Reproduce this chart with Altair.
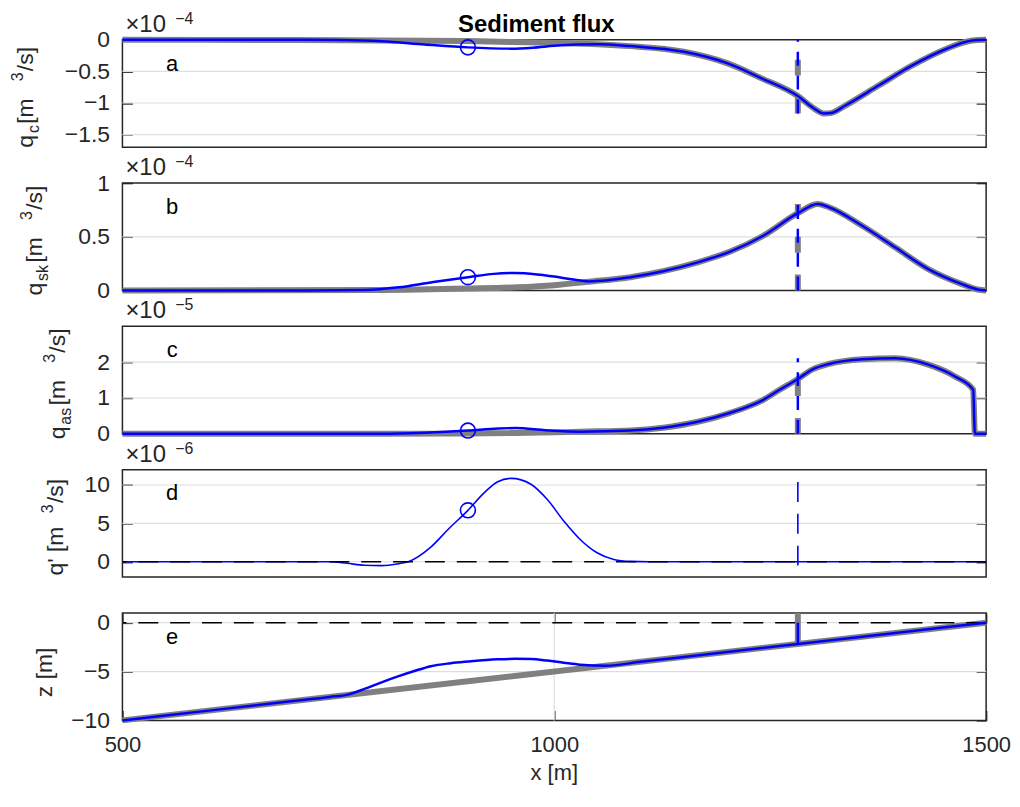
import altair as alt
import pandas as pd

FONT = "Liberation Sans"
AX = "#262626"
GRID = "#dedede"
GREY = "#808080"
BLUE = "#0000ff"

# ---------------- data ----------------
X_MARK = 900      # position of the circle marker [m]
X_BREAK = 1282    # position of the vertical break line [m]

# panel a : q_c  (x1e-4 m^3/s)
a_grey_x = [500, 700, 800, 900, 950, 1000, 1050, 1088, 1150, 1200, 1240, 1282, 1300, 1312, 1320, 1337, 1376, 1414, 1453, 1484, 1500]
a_grey_y = [0, -0.005, -0.01, -0.02, -0.035, -0.05, -0.07, -0.10, -0.19, -0.37, -0.61, -0.89, -1.08, -1.165, -1.16, -1.04, -0.72, -0.41, -0.15, -0.01, 0]
a_blue_x = [500, 700, 750, 800, 850, 900, 950, 975, 1000, 1025, 1050, 1088, 1150, 1200, 1240, 1282, 1300, 1312, 1320, 1337, 1376, 1414, 1453, 1484, 1500]
a_blue_y = [0, 0, -0.005, -0.025, -0.075, -0.12, -0.14, -0.125, -0.095, -0.075, -0.07, -0.10, -0.19, -0.37, -0.61, -0.89, -1.08, -1.165, -1.16, -1.04, -0.72, -0.41, -0.15, -0.01, 0]

# panel b : q_sk (x1e-4 m^3/s)
b_grey_x = [500, 800, 900, 957, 1000, 1040, 1088, 1126, 1165, 1203, 1242, 1282, 1305, 1318, 1357, 1395, 1433, 1472, 1490, 1500]
b_grey_y = [0, 0.005, 0.018, 0.03, 0.05, 0.082, 0.124, 0.18, 0.26, 0.36, 0.51, 0.72, 0.805, 0.775, 0.60, 0.40, 0.20, 0.06, 0.01, 0]
b_blue_x = [500, 700, 780, 820, 860, 900, 930, 955, 980, 1000, 1020, 1040, 1088, 1126, 1165, 1203, 1242, 1282, 1305, 1318, 1357, 1395, 1433, 1472, 1490, 1500]
b_blue_y = [0, 0, 0.005, 0.03, 0.08, 0.124, 0.155, 0.163, 0.15, 0.13, 0.105, 0.085, 0.124, 0.18, 0.26, 0.36, 0.51, 0.72, 0.805, 0.775, 0.60, 0.40, 0.20, 0.06, 0.01, 0]

# panel c : q_as (x1e-5 m^3/s)
c_grey_x = [500, 800, 900, 950, 1000, 1050, 1088, 1126, 1165, 1203, 1242, 1261, 1282, 1299, 1318, 1357, 1395, 1433, 1464, 1485, 1487, 1500]
c_grey_y = [0, 0, 0.01, 0.02, 0.04, 0.07, 0.09, 0.17, 0.33, 0.58, 0.95, 1.23, 1.53, 1.80, 1.95, 2.08, 2.11, 1.93, 1.60, 1.23, 0, 0]
c_blue_x = [500, 800, 850, 900, 935, 955, 990, 1030, 1088, 1126, 1165, 1203, 1242, 1261, 1282, 1299, 1318, 1357, 1395, 1433, 1464, 1485, 1487, 1500]
c_blue_y = [0, 0, 0.03, 0.09, 0.15, 0.16, 0.10, 0.06, 0.09, 0.17, 0.33, 0.58, 0.95, 1.23, 1.53, 1.80, 1.95, 2.08, 2.11, 1.93, 1.60, 1.23, 0, 0]

# panel d : q' (x1e-6 m^3/s)
d_blue_x = [500, 700, 740, 760, 780, 800, 820, 831, 857, 877, 900, 919, 934, 950, 973, 992, 1011, 1030, 1049, 1069, 1088, 1110, 1500]
d_blue_y = [0, 0, 0, -0.2, -0.45, -0.5, -0.25, 0, 1.9, 4.2, 6.7, 9.0, 10.4, 10.86, 10.1, 8.1, 5.3, 2.9, 1.2, 0.3, 0.05, 0, 0]

# panel e : bed level z [m]
e_grey_x = [500, 1500]
e_grey_y = [-10, 0]
e_blue_x = [500, 600, 700, 740, 761, 781, 800, 819, 838, 857, 880, 900, 934, 955, 973, 992, 1011, 1030, 1060, 1100, 1200, 1282, 1400, 1500]
e_blue_y = [-10, -9, -8, -7.6, -7.36, -6.75, -6.1, -5.5, -4.95, -4.45, -4.15, -3.98, -3.75, -3.7, -3.72, -3.88, -4.1, -4.3, -4.4, -4.0, -3.0, -2.18, -1.0, 0]
SEA_LEVEL = 0

# axis settings per panel
DOMAINS = {"a": [-1.7, 0], "b": [0, 1], "c": [0, 3], "d": [-2, 12], "e": [-10, 1]}
TICKS = {"a": [0, -0.5, -1, -1.5], "b": [0, 0.5, 1], "c": [0, 1, 2], "d": [0, 5, 10], "e": [0, -5, -10]}
EXPONENTS = {"a": "\u22124", "b": "\u22124", "c": "\u22125", "d": "\u22126"}
X_DOMAIN = [500, 1500]
X_TICKS = [500, 1000, 1500]

W, H = 868, 108
SPACING = 36
LABEL_FS = 23
ONE = pd.DataFrame({"k": [0]})
XS = alt.Scale(domain=X_DOMAIN, nice=False, zero=False)


def ys(p):
    return alt.Scale(domain=DOMAINS[p], nice=False, zero=False)


def yaxis_left(p):
    return alt.Axis(orient="left", values=TICKS[p], format=".2~f", offset=-10, tickSize=10,
                    domain=False, grid=False, labelPadding=13,
                    labelFontSize=LABEL_FS, labelFont=FONT, labelColor=AX, tickColor=AX, tickWidth=1.5,
                    title=None, labelFlush=False, labelOverlap=False)


def yaxis_right(p):
    return alt.Axis(orient="right", values=TICKS[p], offset=-10, tickSize=10, domain=False,
                    grid=False, labels=False, tickColor=AX, tickWidth=1.5, title=None)


def txt(s, x, y, fs, angle=0, align="left", baseline="alphabetic", weight="normal", color=AX):
    return alt.Chart(ONE).mark_text(text=s, fontSize=fs, font=FONT, color=color, angle=angle,
                                    align=align, baseline=baseline, fontWeight=weight).encode(
        x=alt.value(x), y=alt.value(y))


CW = {"q": .556, "c": .5, "s": .5, "k": .5, "a": .556, "z": .5, " ": .278, "[": .278, "]": .278,
      "m": .833, "/": .278, "3": .556, "'": .191}


def ylabel(pieces, xb, yc, fs=23, sfs=16, k=1.15):
    def w(s, kind):
        if kind == "gap":
            return s
        f = fs if kind == "n" else sfs
        return sum(CW[ch] for ch in s) * f * k
    total = sum(w(s, kind) for s, kind in pieces)
    y = yc + total / 2
    out = []
    for s, kind in pieces:
        if kind != "gap":
            f = fs if kind == "n" else sfs
            dx = 0 if kind == "n" else (6 if kind == "sub" else -10)
            out.append(txt(s, xb + dx, y, f, angle=270))
        y -= w(s, kind)
    return out


def ygrid(p):
    lo, hi = DOMAINS[p]
    df = pd.DataFrame({"y": [v for v in TICKS[p] if lo < v < hi]})
    return alt.Chart(df).mark_rule(color=GRID, strokeWidth=1.2).encode(
        y=alt.Y("y:Q", scale=ys(p), axis=None))


def xgrid():
    lo, hi = X_DOMAIN
    df = pd.DataFrame({"x": [v for v in X_TICKS if lo < v < hi]})
    return alt.Chart(df).mark_rule(color=GRID, strokeWidth=1.2).encode(
        x=alt.X("x:Q", scale=XS, axis=None))


def curve(xs_, ys_, color, width, p, yaxis=None, xaxis=None, opacity=1):
    df = pd.DataFrame({"x": xs_, "y": ys_})
    return alt.Chart(df).mark_line(color=color, strokeWidth=width, interpolate="monotone",
                                   opacity=opacity).encode(
        x=alt.X("x:Q", scale=XS, axis=xaxis),
        y=alt.Y("y:Q", scale=ys(p), axis=yaxis))


def vline(y1, y2, color, width, p, dash=None, clip=False):
    df = pd.DataFrame({"x": [X_BREAK], "y1": [y1], "y2": [y2]})
    kw = dict(color=color, strokeWidth=width, clip=clip)
    if dash:
        kw["strokeDash"] = dash
    return alt.Chart(df).mark_rule(**kw).encode(
        x=alt.X("x:Q", scale=XS, axis=None),
        y=alt.Y("y1:Q", scale=ys(p), axis=None), y2="y2:Q")


def marker(xs_, ys_, p):
    v = ys_[xs_.index(X_MARK)]
    df = pd.DataFrame({"x": [X_MARK], "y": [v]})
    return alt.Chart(df).mark_point(shape="circle", filled=False, size=225, strokeWidth=1.6,
                                    color=BLUE, opacity=1).encode(
        x=alt.X("x:Q", scale=XS, axis=None), y=alt.Y("y:Q", scale=ys(p), axis=None))


def hzero(p, value):
    df = pd.DataFrame({"y": [value]})
    return alt.Chart(df).mark_rule(color="black", strokeWidth=1.5, strokeDash=[20, 12]).encode(
        y=alt.Y("y:Q", scale=ys(p), axis=None))


def deco(p, label_pieces, xb):
    items = [txt(p, 50, 24, 22, align="center", baseline="middle", color="black")]
    if p in EXPONENTS:
        items.append(txt("\u00d710", 3, -8, 24))
        items.append(txt(EXPONENTS[p], 53, -16, 16))
    items += ylabel(label_pieces, xb, H / 2 + 2)
    return items


def qlabel(sub):
    return [("q", "n"), (sub, "sub"), (" [m", "n"), (6, "gap"), ("3", "sup"), ("/s]", "n")]


def flux_panel(p, gx, gy, bx, by, label_pieces, xb):
    layers = [
        ygrid(p),
        curve(gx, gy, GREY, 6, p, yaxis=yaxis_left(p)),
        vline(min(by), max(by), GREY, 6, p, dash=[16, 22]),
        curve(bx, by, BLUE, 2.5, p, yaxis=yaxis_right(p)),
        vline(min(by), max(by), BLUE, 2.5, p, dash=[14, 10]),
        marker(bx, by, p),
    ] + deco(p, label_pieces, xb)
    return alt.layer(*layers).resolve_axis(x="independent", y="independent").properties(width=W, height=H)


pa = flux_panel("a", a_grey_x, a_grey_y, a_blue_x, a_blue_y, qlabel("c"), -90)
pa = alt.layer(pa, txt("Sediment flux", 416, -8, 24, align="center", weight="bold", color="black"))
pb = flux_panel("b", b_grey_x, b_grey_y, b_blue_x, b_blue_y, qlabel("sk"), -81)
pc = flux_panel("c", c_grey_x, c_grey_y, c_blue_x, c_blue_y, qlabel("as"), -58)

# panel d
pd_layers = [
    ygrid("d"),
    curve(d_blue_x, d_blue_y, BLUE, 1.6, "d", yaxis=yaxis_left("d")),
    vline(min(d_blue_y), max(d_blue_y), BLUE, 1.6, "d", dash=[20, 12]),
    hzero("d", 0),
    curve(d_blue_x, d_blue_y, BLUE, 1, "d", yaxis=yaxis_right("d"), opacity=0),
    marker(d_blue_x, d_blue_y, "d"),
] + deco("d", [("q' [m", "n"), (6, "gap"), ("3", "sup"), ("/s]", "n")], -60)
pdd = alt.layer(*pd_layers).resolve_axis(x="independent", y="independent").properties(width=W, height=H)

# panel e
xaxis_bottom = alt.Axis(orient="bottom", values=X_TICKS, format="d", offset=-10, tickSize=10,
                        domain=False, grid=False, labelPadding=14,
                        labelFontSize=22, labelFont=FONT, labelColor=AX, tickColor=AX, tickWidth=1.5,
                        labelFlush=False, title=None)
xaxis_top = alt.Axis(orient="top", values=X_TICKS, offset=-10, tickSize=10, domain=False,
                     grid=False, labels=False, tickColor=AX, tickWidth=1.5, title=None)
z_break = e_blue_y[e_blue_x.index(X_BREAK)]
pe_layers = [
    ygrid("e"),
    xgrid(),
    curve(e_grey_x, e_grey_y, GREY, 6, "e", yaxis=yaxis_left("e"), xaxis=xaxis_bottom),
    vline(z_break, DOMAINS["e"][1], GREY, 6, "e", clip=True),
    hzero("e", SEA_LEVEL),
    curve(e_blue_x, e_blue_y, BLUE, 2.5, "e", yaxis=yaxis_right("e"), xaxis=xaxis_top),
    vline(z_break, SEA_LEVEL, BLUE, 2.5, "e"),
    txt("e", 50, 24, 22, align="center", baseline="middle", color="black"),
    txt("x [m]", W / 2, H + 60, 22, align="center"),
] + ylabel([("z [m]", "n")], -71, H / 2 + 2)
pe = alt.layer(*pe_layers).resolve_axis(x="independent", y="independent").properties(width=W, height=H)

chart = alt.vconcat(pa, pb, pc, pdd, pe, spacing=SPACING, bounds="flush").configure_view(
    stroke=AX, strokeWidth=1.5).properties(
    padding={"left": 1, "top": 0, "right": 0, "bottom": 0}, background="white")

chart.save("out.html", embed_options={"renderer": "svg", "actions": False})
